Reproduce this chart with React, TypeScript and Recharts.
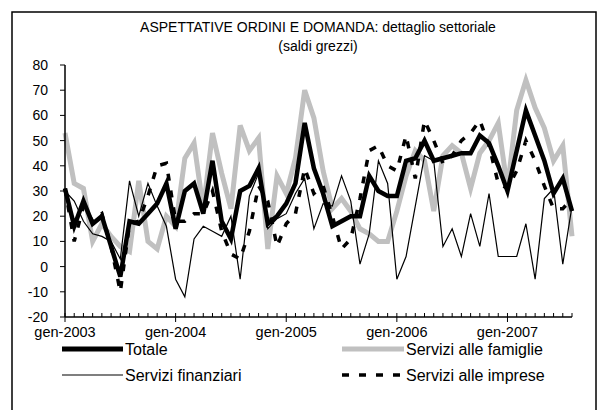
import React from 'react';
import { LineChart, Line, XAxis, YAxis } from 'recharts';

const MONTH_ABBR = ['gen', 'feb', 'mar', 'apr', 'mag', 'giu', 'lug', 'ago', 'set', 'ott', 'nov', 'dic'];
const YEARS = [2003, 2004, 2005, 2006, 2007];
const LAST_MONTH_2007 = 8; // data run up to agosto 2007

const categories: string[] = [];
YEARS.forEach((y) => {
  MONTH_ABBR.forEach((m, mi) => {
    if (y === 2007 && mi >= LAST_MONTH_2007) return;
    categories.push(`${m}-${y}`);
  });
});

const totale = [31, 16, 26, 17, 20, 8, -4, 18, 17, 21, 25, 33, 15, 30, 33, 21, 42, 18, 11, 30, 32, 39, 17, 20, 25, 33, 57, 39, 29, 16, 18, 20, 20, 36, 30, 28, 28, 42, 43, 50, 42, 43, 44, 45, 45, 52, 49, 40, 30, 46, 62, 52, 42, 29, 35, 22];
const famiglie = [53, 33, 31, 10, 17, 12, 8, 6, 34, 10, 7, 20, 16, 43, 49, 23, 53, 37, 23, 56, 46, 51, 7, 36, 29, 43, 70, 59, 38, 23, 27, 22, 15, 13, 10, 10, 22, 36, 46, 42, 22, 44, 48, 45, 31, 45, 50, 57, 31, 62, 74, 63, 55, 42, 48, 12];
const finanziari = [30, 26, 18, 13, 12, 10, 3, 34, 20, 33, 24, 16, -5, -12, 11, 16, 14, 12, 20, -5, 28, 37, 15, 19, 21, 29, 35, 15, 25, 24, 36, 26, 1, 13, 42, 33, -5, 4, 24, 44, 42, 8, 15, 4, 21, 8, 29, 4, 4, 4, 17, -5, 27, 31, 1, 24];
const imprese = [31, 10, 24, 18, 21, 8, -10, 17, 18, 28, 40, 41, 18, 18, 21, 21, 30, 14, 5, 3, 14, 32, 26, 8, 17, 21, 39, 29, 32, 20, 7, 11, 27, 46, 48, 40, 38, 52, 35, 58, 50, 41, 44, 50, 53, 58, 48, 33, 31, 38, 50, 42, 32, 23, 23, 27];

const yTicks = [-20, -10, 0, 10, 20, 30, 40, 50, 60, 70, 80];
const titleLines = ['ASPETTATIVE ORDINI E DOMANDA: dettaglio settoriale', '(saldi grezzi)'];
const legendNames = ['Totale', 'Servizi alle famiglie', 'Servizi finanziari', 'Servizi alle imprese'];

const data = categories.map((month, i) => ({
  month,
  totale: totale[i],
  famiglie: famiglie[i],
  finanziari: finanziari[i],
  imprese: imprese[i],
}));

const FONT = '"Liberation Sans", Arial, sans-serif';
const GRAY = '#c0c0c0';

const XTick = (props: any) => {
  const { x, y, payload } = props;
  const label = String(payload.value);
  const isJan = label.startsWith('gen');
  return (
    <g>
      <line x1={x} x2={x} y1={y - 4} y2={isJan ? y + 5 : y} stroke="#000" strokeWidth={1} />
      {isJan && (
        <text x={x} y={y + 20} textAnchor="middle" fontSize={14.5} fontFamily={FONT} fill="#000">
          {label}
        </text>
      )}
    </g>
  );
};

export default function App() {
  return (
    <div style={{ position: 'absolute', left: 0, top: 0, width: 607, height: 410, background: '#fff', overflow: 'hidden' }}>
      <LineChart width={607} height={410} data={data} margin={{ top: 65, right: 35, left: 0, bottom: 63 }}>
        <XAxis
          dataKey="month"
          interval={0}
          tickSize={0}
          tickMargin={0}
          height={30}
          tick={<XTick />}
          axisLine={{ stroke: '#000', strokeWidth: 1.5 }}
          tickLine={false}
        />
        <XAxis xAxisId="top" dataKey="month" orientation="top" height={0} tick={false} tickLine={false} axisLine={{ stroke: '#222', strokeWidth: 1 }} />
        <YAxis
          domain={[-20, 80]}
          ticks={yTicks}
          interval={0}
          width={65}
          tickSize={5}
          tickMargin={12}
          tick={{ fill: '#000', fontSize: 14, fontFamily: FONT }}
          tickLine={{ stroke: '#000', strokeWidth: 1 }}
          axisLine={{ stroke: '#000', strokeWidth: 1.5 }}
          allowDataOverflow
        />
        <YAxis yAxisId="right" orientation="right" domain={[-20, 80]} width={0} tick={false} tickLine={false} axisLine={{ stroke: '#222', strokeWidth: 1 }} />
        <Line dataKey="famiglie" stroke={GRAY} strokeWidth={5} dot={false} isAnimationActive={false} strokeLinejoin="miter" />
        <Line dataKey="finanziari" stroke="#000" strokeWidth={1.2} dot={false} isAnimationActive={false} strokeLinejoin="miter" />
        <Line dataKey="totale" stroke="#000" strokeWidth={4.5} dot={false} isAnimationActive={false} strokeLinejoin="miter" />
        <Line dataKey="imprese" stroke="#000" strokeWidth={3.5} strokeDasharray="7 10" dot={false} isAnimationActive={false} />
      </LineChart>
      <svg width={607} height={410} style={{ position: 'absolute', left: 0, top: 0, pointerEvents: 'none' }}>
        <rect x={12} y={12} width={584} height={420} fill="none" stroke="#000" strokeWidth={1.5} />
        <text x={318} y={32} textAnchor="middle" fontSize={14} fontFamily={FONT} fill="#000">{titleLines[0]}</text>
        <text x={318} y={51} textAnchor="middle" fontSize={14} fontFamily={FONT} fill="#000">{titleLines[1]}</text>
        <line x1={62} x2={123} y1={349} y2={349} stroke="#000" strokeWidth={5} />
        <text x={125} y={355} fontSize={16} fontFamily={FONT} fill="#000">{legendNames[0]}</text>
        <line x1={342} x2={404} y1={349} y2={349} stroke={GRAY} strokeWidth={5} />
        <text x={406} y={355} fontSize={16} fontFamily={FONT} fill="#000">{legendNames[1]}</text>
        <line x1={62} x2={123} y1={375} y2={375} stroke="#000" strokeWidth={1.2} />
        <text x={125} y={381} fontSize={16} fontFamily={FONT} fill="#000">{legendNames[2]}</text>
        <line x1={342} x2={404} y1={375} y2={375} stroke="#000" strokeWidth={3.5} strokeDasharray="7 10" />
        <text x={406} y={381} fontSize={16} fontFamily={FONT} fill="#000">{legendNames[3]}</text>
      </svg>
    </div>
  );
}
